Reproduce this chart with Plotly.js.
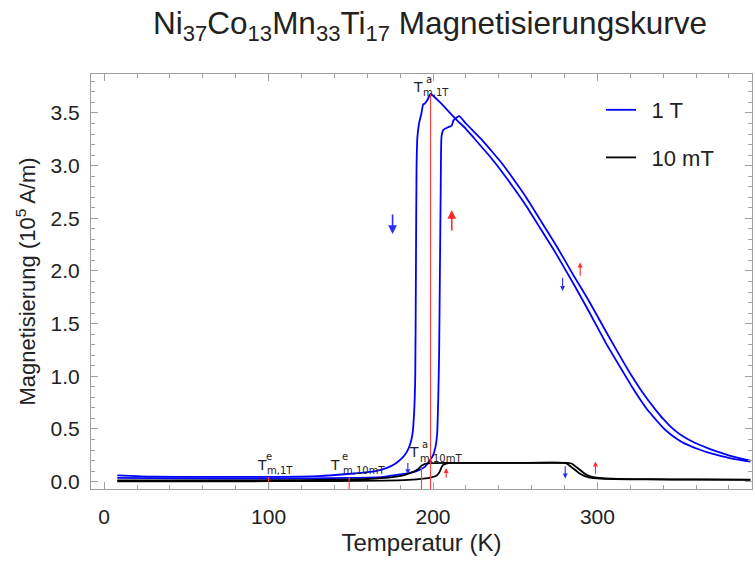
<!DOCTYPE html>
<html>
<head>
<meta charset="utf-8">
<script src="https://cdn.plot.ly/plotly-3.0.1.min.js"></script>
<style>html,body{margin:0;padding:0;background:#fff;}#chart{width:755px;height:565px;}</style>
</head>
<body>
<div id="chart"></div>
<script>
// ---- data ----
// 1 T, cooling branch (transition at lower temperature)
const blue1T_coolT = [8, 30, 60, 100, 130, 150, 165, 172, 177, 181, 184, 186, 187.5, 188.5, 189.2, 189.6, 190, 190.5, 191.5, 193, 194, 195, 196.5, 198.5, 204.3, 214, 220, 225, 230, 235, 242, 249, 257, 265, 275, 285, 295, 305, 316, 321, 326, 331, 336, 340, 344, 348, 352, 357, 362, 367, 372, 382, 393];
const blue1T_coolM = [0.06, 0.048, 0.045, 0.045, 0.052, 0.075, 0.1, 0.13, 0.17, 0.22, 0.28, 0.35, 0.45, 0.65, 1.0, 2.0, 3.0, 3.27, 3.4, 3.5, 3.58, 3.59, 3.62, 3.68, 3.60, 3.44, 3.35, 3.26, 3.17, 3.08, 2.94, 2.79, 2.61, 2.41, 2.16, 1.89, 1.61, 1.32, 1.03, 0.9, 0.78, 0.67, 0.58, 0.51, 0.455, 0.41, 0.37, 0.335, 0.305, 0.278, 0.256, 0.218, 0.19];
// 1 T, heating branch
const blue1T_heatT = [8, 50, 100, 150, 170, 178, 185, 190, 195, 198, 200, 201.5, 202.5, 203.2, 203.7, 204.2, 204.7, 205.2, 206.3, 208.5, 211.3, 212.5, 214.6, 216, 220, 225, 230, 235, 242, 249, 257, 265, 275, 285, 295, 305, 316, 321, 326, 331, 336, 340, 344, 348, 352, 357, 362, 367, 372, 382, 393];
const blue1T_heatM = [0.035, 0.03, 0.03, 0.035, 0.045, 0.065, 0.08, 0.1, 0.14, 0.2, 0.25, 0.33, 0.45, 0.8, 1.2, 2.0, 2.8, 3.28, 3.34, 3.36, 3.38, 3.43, 3.46, 3.47, 3.4, 3.32, 3.24, 3.15, 3.02, 2.87, 2.69, 2.49, 2.24, 1.97, 1.71, 1.43, 1.13, 1.0, 0.88, 0.77, 0.67, 0.595, 0.53, 0.475, 0.43, 0.385, 0.35, 0.318, 0.29, 0.24, 0.2];
// 10 mT, cooling branch
const black10_coolT = [8, 60, 100, 140, 160, 174, 182, 186, 189, 191, 192.5, 194, 196, 199, 210, 250, 279, 281.5, 284, 286.5, 289, 292, 295.5, 300, 310, 330, 360, 393];
const black10_coolM = [0.012, 0.012, 0.013, 0.018, 0.025, 0.04, 0.06, 0.08, 0.1, 0.12, 0.145, 0.16, 0.17, 0.176, 0.178, 0.178, 0.178, 0.17, 0.14, 0.11, 0.08, 0.055, 0.038, 0.03, 0.024, 0.021, 0.019, 0.017];
// 10 mT, heating branch
const black10_heatT = [8, 60, 100, 140, 170, 185, 194, 199, 202, 203.5, 204.5, 205.3, 206.5, 208, 212, 250, 282, 284.5, 287, 289.5, 291.5, 294, 297.5, 303, 312, 330, 360, 393];
const black10_heatM = [0.003, 0.003, 0.004, 0.006, 0.01, 0.017, 0.028, 0.04, 0.055, 0.08, 0.11, 0.14, 0.162, 0.172, 0.178, 0.178, 0.178, 0.17, 0.14, 0.11, 0.085, 0.06, 0.042, 0.032, 0.026, 0.023, 0.021, 0.019];

// marker lines for transition temperatures
const markT   = [100, 149, 193, 198.5];
const markTop = [0.045, 0.045, 0.145, 3.68];

// direction arrows
const arrowT    = [175.4, 211.4, 278.8, 289.5, 280.4, 298.8, 184.7, 208];
const arrowFrom = [2.55, 2.37, 1.95, 1.94, 0.16, 0.06, 0.19, 0.026];
const arrowTo   = [2.35, 2.58, 1.81, 2.08, 0.03, 0.19, 0.07, 0.13];
const arrowCol  = ['b', 'r', 'b', 'r', 'b', 'r', 'b', 'r'];
const arrowBig  = [1, 1, 0, 0, 0, 0, 0, 0];

const seriesNames = ['1 T', '10 mT'];

const xRange = [-8, 394];
const yRange = [-0.07, 3.87];

// ---- figure ----
const BLUE = '#0000ff', BLACK = '#000000', RED = '#ff3b3b';
const lineStyle = (c) => ({color: c, width: 1.8, shape: 'spline', smoothing: 0.5});
const GAP = '\u00a0\u2009';
const traces = [];
traces.push({x: blue1T_coolT, y: blue1T_coolM, mode: 'lines', line: lineStyle(BLUE), name: GAP + seriesNames[0], legendgroup: 'a', showlegend: true, hoverinfo: 'skip'});
traces.push({x: blue1T_heatT, y: blue1T_heatM, mode: 'lines', line: lineStyle(BLUE), name: GAP + seriesNames[0], legendgroup: 'a', showlegend: false, hoverinfo: 'skip'});
traces.push({x: black10_coolT, y: black10_coolM, mode: 'lines', line: lineStyle(BLACK), name: GAP + seriesNames[1], legendgroup: 'b', showlegend: true, hoverinfo: 'skip'});
traces.push({x: black10_heatT, y: black10_heatM, mode: 'lines', line: lineStyle(BLACK), name: GAP + seriesNames[1], legendgroup: 'b', showlegend: false, hoverinfo: 'skip'});
markT.forEach((t, i) => {
  traces.push({x: [t, t], y: [yRange[0], markTop[i]], mode: 'lines', line: {color: RED, width: 1.1}, showlegend: false, hoverinfo: 'skip'});
});

// plot-area pixel helpers for text placement
const L = 91, T0 = 74, W = 661, H = 415;
function px(x) { return (x - L) / W; }
function py(y) { return (T0 + H - y) / H; }

const annotations = [];
arrowT.forEach((t, i) => {
  const big = arrowBig[i] === 1;
  annotations.push({
    x: t, y: arrowTo[i], ax: t, ay: arrowFrom[i], xref: 'x', yref: 'y', axref: 'x', ayref: 'y',
    text: '', showarrow: true, arrowhead: 2, arrowsize: big ? 1.1 : 0.9, arrowwidth: big ? 1.6 : 1.1,
    arrowcolor: arrowCol[i] === 'b' ? '#2a2aff' : '#ff2a2a', standoff: 0, startstandoff: 0
  });
});

const LF = 'DejaVu Sans, sans-serif';
function label(Tx, Ty, supText, supX, supY, subText, subX, subY) {
  annotations.push({xref: 'paper', yref: 'paper', x: px(Tx), y: py(Ty), text: 'T', showarrow: false, xanchor: 'center', yanchor: 'middle', font: {family: LF, size: 14, color: '#222'}});
  annotations.push({xref: 'paper', yref: 'paper', x: px(supX), y: py(supY), text: supText, showarrow: false, xanchor: 'center', yanchor: 'middle', font: {family: LF, size: 10, color: '#222'}});
  annotations.push({xref: 'paper', yref: 'paper', x: px(subX), y: py(subY), text: subText, showarrow: false, xanchor: 'left', yanchor: 'middle', font: {family: LF, size: 10, color: '#222'}});
}
label(261.5, 464.5, 'e', 269, 456, 'm,1T', 264.5, 470);
label(335.3, 464.5, 'e', 344.5, 456, 'm,10mT', 341, 470);
label(414, 452, 'a', 425.5, 444, 'm,10mT', 417.5, 458);
label(417.8, 86.7, 'a', 429, 79.5, 'm,1T', 421, 92);

const FONT = 'Liberation Sans, Arial, sans-serif';
const axisCommon = {
  showline: true, linecolor: '#a0a0a0', linewidth: 1, mirror: 'ticks',
  ticks: 'inside', ticklen: 7, tickcolor: '#a0a0a0', tickwidth: 1,
  showgrid: false, zeroline: false,
  tickfont: {family: FONT, size: 21, color: '#222'}
};

const layout = {
  width: 755, height: 565,
  margin: {l: L, r: 755 - L - W, t: T0, b: 565 - T0 - H},
  paper_bgcolor: '#fff', plot_bgcolor: '#fff',
  showlegend: true,
  title: {
    text: 'Ni<sub>37</sub>Co<sub>13</sub>Mn<sub>33</sub>Ti<sub>17</sub> Magnetisierungskurve',
    xref: 'container', x: 430 / 755, xanchor: 'center', yref: 'container', y: 1 - 23 / 565, yanchor: 'middle',
    font: {family: FONT, size: 31.5, color: '#222'}
  },
  xaxis: Object.assign({}, axisCommon, {
    range: xRange, tick0: 0, dtick: 100,
    minor: {dtick: 20, ticks: 'inside', ticklen: 4, tickcolor: '#a0a0a0'},
    ticklabelstandoff: 9,
    title: {text: 'Temperatur (K)', font: {family: FONT, size: 24, color: '#222'}, standoff: 6}
  }),
  yaxis: Object.assign({}, axisCommon, {
    range: yRange, tick0: 0, dtick: 0.5, tickformat: '.1f',
    minor: {dtick: 0.1, ticks: 'inside', ticklen: 4, tickcolor: '#a0a0a0'},
    ticklabelstandoff: 6,
    title: {text: 'Magnetisierung (10<sup>5</sup> A/m)', font: {family: FONT, size: 22, color: '#222'}, standoff: 8}
  }),
  legend: {
    x: px(601), y: py(89), xanchor: 'left', yanchor: 'top',
    bgcolor: 'rgba(0,0,0,0)', borderwidth: 0,
    font: {family: FONT, size: 22, color: '#222'},
    traceorder: 'grouped', tracegroupgap: 16
  },
  annotations: annotations
};

Plotly.newPlot('chart', traces, layout, {displayModeBar: false, staticPlot: true});
</script>
</body>
</html>
